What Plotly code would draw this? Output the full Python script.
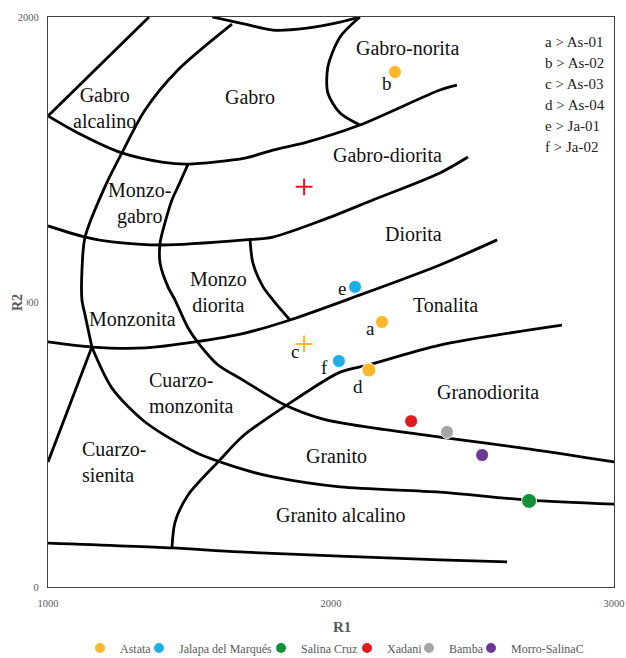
import plotly.graph_objects as go

# ---------------- boundary lines of the R1-R2 diagram (R1, R2) ----------------
bnd_alk_top = [(1357, 2000), (1000, 1653)]
bnd_gabro_base = [(1000, 1653), (1106, 1593), (1261, 1523), (1403, 1491), (1495, 1484),
                  (1696, 1505), (1795, 1533), (1915, 1561), (2102, 1621), (2385, 1744), (2445, 1761)]
bnd_top_arc = [(1580, 2000), (1696, 1975), (1795, 1954), (1915, 1961), (2032, 1982), (2102, 2000)]
bnd_norita = [(2102, 2000), (2032, 1930), (1989, 1825), (1989, 1733), (2032, 1663), (2102, 1621)]
bnd_alk_side = [(1650, 1975), (1459, 1814), (1343, 1674), (1261, 1523), (1201, 1404), (1131, 1228),
                (1120, 1112), (1120, 1007), (1131, 954), (1155, 842)]
bnd_diorita_top = [(1000, 1267), (1131, 1228), (1226, 1211), (1403, 1200), (1696, 1218), (1795, 1228),
                   (1972, 1288), (2148, 1358), (2385, 1453), (2484, 1509)]
bnd_monzo_mid = [(1495, 1484), (1459, 1404), (1438, 1358), (1413, 1277), (1396, 1207), (1396, 1137),
                 (1424, 1053), (1449, 1007), (1495, 909), (1537, 849), (1601, 779), (1689, 726),
                 (1830, 642), (1972, 589), (2148, 558), (2385, 526), (2703, 484), (3000, 439)]
bnd_monzodiorita = [(1714, 1218), (1724, 1137), (1760, 1053), (1795, 1007), (1855, 937)]
bnd_tonalita_base = [(1000, 860), (1155, 842), (1343, 839), (1519, 860), (1696, 891), (1855, 937),
                     (2092, 1021), (2385, 1130), (2587, 1218)]
bnd_sienita = [(1155, 842), (1000, 439)]
bnd_granito_base = [(1155, 842), (1226, 698), (1343, 579), (1519, 474), (1696, 411), (1795, 386),
                    (2032, 351), (2385, 333), (2696, 305), (3000, 291)]
bnd_granodiorita_base = [(1438, 137), (1449, 228), (1495, 323), (1601, 439), (1689, 530), (1845, 639),
                         (2032, 754), (2131, 779), (2385, 849), (2816, 919)]
bnd_bottom = [(1000, 154), (1438, 137), (1678, 123), (2385, 95), (2622, 88)]

boundaries = [bnd_alk_top, bnd_gabro_base, bnd_top_arc, bnd_norita, bnd_alk_side, bnd_diorita_top,
              bnd_monzo_mid, bnd_monzodiorita, bnd_tonalita_base, bnd_sienita, bnd_granito_base,
              bnd_granodiorita_base, bnd_bottom]

# ---------------- field names ----------------
field_names = ["Gabro-norita", "Gabro", "Gabro<br>alcalino", "Gabro-diorita", "Monzo-<br>gabro",
               "Diorita", "Monzo<br>diorita", "Monzonita", "Tonalita", "Cuarzo-<br>monzonita",
               "Granodiorita", "Cuarzo-<br>sienita", "Granito", "Granito alcalino"]
field_r1 = [2272, 1714, 1201, 2201, 1325, 2290, 1601, 1300, 2403, 1350, 2555, 1113, 2021, 2032]
field_r2 = [1891, 1719, 1681, 1516, 1347, 1239, 1035, 940, 989, 681, 684, 439, 460, 253]
field_align = ["center"] * 9 + ["left", "center", "left", "center", "center"]

# ---------------- samples ----------------
series = ["Astata", "Jalapa del Marqués", "Salina Cruz", "Xadani", "Bamba", "Morro-SalinaC"]
colors = ["#FBB828", "#1EAEE6", "#12913A", "#E3181E", "#A6A6A6", "#6B3A96"]
series_r1 = [[2180, 2226, 2134], [2085, 2028], [2700], [2283], [2410], [2534]]
series_r2 = [[930, 1807, 761], [1053, 793], [302], [582], [544], [463]]
series_size = [[13, 13, 14], [13, 13], [15], [13], [13], [13]]

cross_r1 = [1905, 1905]
cross_r2 = [853, 1404]
cross_colors = ["#FBB828", "#E3181E"]

sample_letters = ["a", "b", "c", "d", "e", "f"]
sample_r1 = [2180, 2226, 1905, 2134, 2085, 2028]
sample_r2 = [930, 1807, 853, 761, 1053, 793]
letter_shift = [(-11, -7), (-8, -11), (-9, -8), (-11, -16), (-13, -2), (-14, -6)]

key_text = ["a > As-01", "b > As-02", "c > As-03", "d > As-04", "e > Ja-01", "f > Ja-02"]
key_r2 = [1912, 1839, 1765, 1691, 1618, 1544]

# legend entry left edges in pixels (style)
legend_px = [80, 139, 261, 347, 409, 471]

SERIF = "Liberation Serif"
PL, PR, PT, PB = 48, 12, 17, 71
PW = 626 - PL - PR
PH = 658 - PT - PB

fig = go.Figure()

for b in boundaries:
    xs = [p[0] for p in b]
    ys = [p[1] for p in b]
    fig.add_trace(go.Scatter(x=xs, y=ys, mode="lines", showlegend=False, hoverinfo="skip",
                             line=dict(color="black", width=2.8,
                                       shape="spline" if len(b) > 2 else "linear", smoothing=0.8)))

legend_layouts = {}
for i, name in enumerate(series):
    key = "legend" if i == 0 else "legend%d" % (i + 1)
    fig.add_trace(go.Scatter(x=series_r1[i], y=series_r2[i], mode="markers", name=name,
                             legend=key,
                             marker=dict(color=colors[i], size=series_size[i], symbol="circle",
                                         opacity=1)))
    legend_layouts[key] = dict(orientation="h", x=(legend_px[i] - PL) / PW, xanchor="left",
                               y=(PT + PH - 648) / PH, yanchor="middle",
                               bgcolor="rgba(0,0,0,0)", borderwidth=0, itemwidth=30,
                               itemsizing="constant",
                               font=dict(family=SERIF, size=12, color="#595959"))

for i in range(len(cross_r1)):
    fig.add_trace(go.Scatter(x=[cross_r1[i]], y=[cross_r2[i]], mode="markers", showlegend=False,
                             marker=dict(symbol="cross-thin", size=12, opacity=1,
                                         line=dict(color=cross_colors[i], width=2))))

annotations = []
for t, x, y, al in zip(field_names, field_r1, field_r2, field_align):
    annotations.append(dict(x=x, y=y, text=t, showarrow=False, align=al,
                            xanchor="left" if al == "left" else "center", yanchor="middle",
                            font=dict(family=SERIF, size=20, color="#111111")))

for t, x, y, s in zip(sample_letters, sample_r1, sample_r2, letter_shift):
    annotations.append(dict(x=x, y=y, text=t, showarrow=False, xshift=s[0], yshift=s[1],
                            font=dict(family=SERIF, size=19, color="#111111")))

for t, y in zip(key_text, key_r2):
    annotations.append(dict(x=2749, y=y, text=t, showarrow=False, xanchor="left", yanchor="middle",
                            font=dict(family=SERIF, size=15, color="#222222")))

annotations.append(dict(xref="paper", yref="paper", x=(17 - PL) / PW, y=(PT + PH - 303) / PH,
                        text="<b>R2</b>", textangle=-90, showarrow=False, bgcolor="white",
                        xanchor="center", yanchor="middle",
                        font=dict(family=SERIF, size=14, color="#595959")))
annotations.append(dict(xref="paper", yref="paper", x=(342 - PL) / PW, y=(PT + PH - 627) / PH,
                        text="<b>R1</b>", showarrow=False, yanchor="middle",
                        font=dict(family=SERIF, size=15, color="#595959")))

fig.update_layout(
    width=626, height=658,
    margin=dict(l=PL, r=PR, t=PT, b=PB, autoexpand=False),
    paper_bgcolor="white", plot_bgcolor="white",
    font=dict(family=SERIF),
    annotations=annotations,
    xaxis=dict(range=[1000, 3000], tickvals=[1000, 2000, 3000], showgrid=False, zeroline=False,
               showline=True, mirror=True, linecolor="#3f3f3f", linewidth=1.3, ticks="",
               ticklabelstandoff=6, tickfont=dict(family=SERIF, size=10.5, color="#595959")),
    yaxis=dict(range=[0, 2000], tickvals=[0, 1000, 2000], showgrid=False, zeroline=False,
               showline=True, mirror=True, linecolor="#3f3f3f", linewidth=1.3, ticks="",
               ticklabelstandoff=6, tickfont=dict(family=SERIF, size=10.5, color="#595959")),
    **legend_layouts,
)

fig.write_html("out.html", config={"displayModeBar": False},
               post_script="document.body.style.margin='0px';")
